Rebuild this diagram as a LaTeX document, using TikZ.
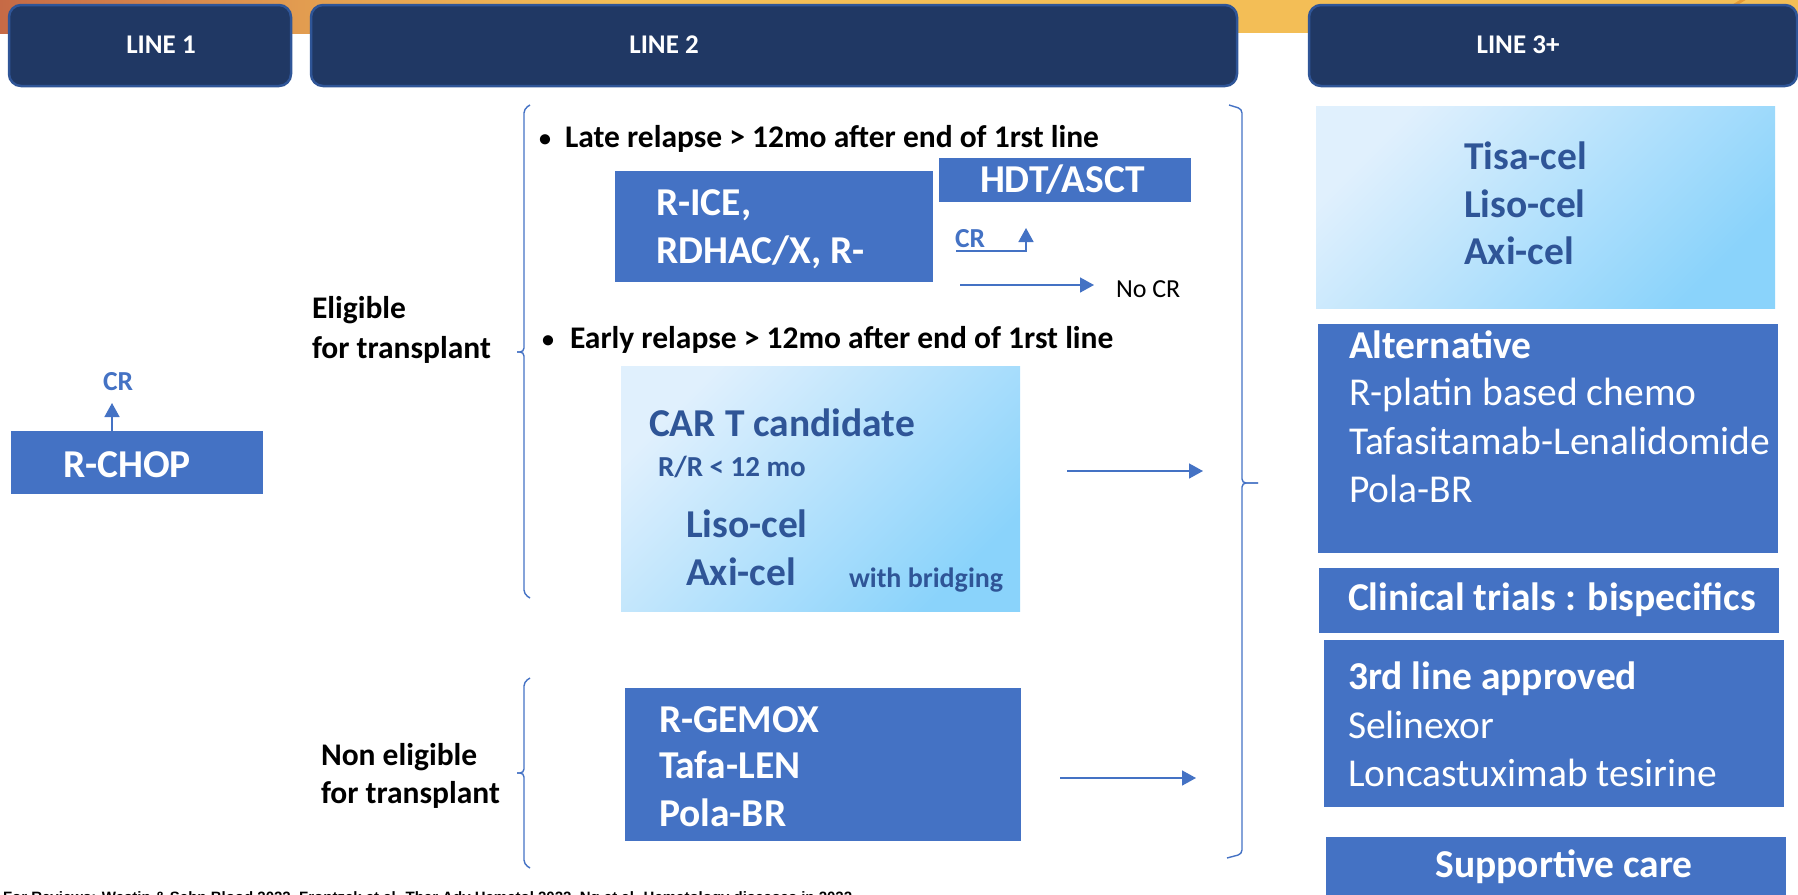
\documentclass[tikz,border=0pt]{standalone}
\usepackage{fontspec}
\setmainfont{Carlito}
\newfontfamily\citefont{Liberation Sans}
\usetikzlibrary{arrows.meta}

\definecolor{boxblue}{HTML}{4472C4}
\definecolor{navy}{HTML}{203864}
\definecolor{navyrim}{HTML}{2F5597}
\definecolor{deepblue}{HTML}{2F5597}
\definecolor{skylight}{HTML}{E0F0FD}
\definecolor{skydark}{HTML}{8AD3FB}
\definecolor{bandL}{HTML}{C66A46}
\definecolor{bandM}{HTML}{E29C50}
\definecolor{bandR}{HTML}{F3BE56}
\definecolor{bandDeep}{HTML}{E49A35}

\begin{document}
\begin{tikzpicture}[x=1pt, y=-1pt,
  every node/.style={inner sep=0pt, outer sep=0pt},
  header/.style={fill=navy, draw=navyrim, line width=2.5pt, rounded corners=12pt, anchor=north west},
  solid box/.style={fill=boxblue, anchor=north west},
  sky box/.style={top color=skylight, bottom color=skydark, shading angle=45, anchor=north west},
  hdrtext/.style={text=white, font=\fontsize{27}{30}\selectfont\bfseries},
  bigw/.style={text=white, anchor=base west, font=\fontsize{39.5}{47}\selectfont\bfseries},
  bigwr/.style={text=white, anchor=base west, font=\fontsize{39.5}{47}\selectfont},
  bigd/.style={text=deepblue, anchor=base west, font=\fontsize{39.5}{47}\selectfont\bfseries},
  smalld/.style={text=deepblue, anchor=base west, font=\fontsize{#1}{#1}\selectfont\bfseries},
  label/.style={text=black, anchor=base west, font=\fontsize{31.5}{38}\selectfont\bfseries},
  crlabel/.style={text=boxblue, anchor=base west, font=\fontsize{27.5}{30}\selectfont\bfseries},
  link/.style={draw=boxblue, line width=1.6pt, -{Triangle[width=15pt,length=14pt]}},
  bracket/.style={draw=boxblue, line width=1.4pt, rounded corners=4pt}
]
\newcommand{\smallbullet}{\raisebox{1pt}{\fontsize{24}{24}\selectfont •}}
\useasboundingbox (0,0) rectangle (1798,894);

% warm band behind the column headers
\shade[left color=bandL, right color=bandM] (0,0) rectangle (300,33);
\shade[left color=bandM, right color=bandR] (300,0) rectangle (620,33);
\fill[bandR] (620,0) rectangle (1798,33);
\draw[bandDeep, line width=3pt] (1733,6) -- (1746,-2);

% column headers
\node[header, minimum width=282pt, minimum height=81pt] (h1box) at (9,5) {};
\node[header, minimum width=926pt, minimum height=81pt] (h2box) at (311,5) {};
\node[header, minimum width=488pt, minimum height=81pt] (h3box) at (1309,5) {};
\node[hdrtext] (h1) at (161,45) {LINE 1};
\node[hdrtext] (h2) at (664,45) {LINE 2};
\node[hdrtext] (h3) at (1518,45) {LINE 3+};

% ---- line 1 ----
\node[solid box, minimum width=252pt, minimum height=63pt] (rchop) at (11,431) {};
\node[bigw] (rchopt) at (63,477) {R-CHOP};
\node[crlabel] (cr1) at (103,390) {CR};
\coordinate (cr1tip) at (112,403);
\draw[link] (rchop.north -| cr1tip) -- (cr1tip);

% ---- line 2, eligible for transplant ----
\node[label] (elig1) at (312,318) {Eligible};
\node[label] (elig2) at (312,358) {for transplant};
\draw[bracket] (530,105) -- (524,109) -- (524,352) -- (517,352);
\draw[bracket] (517,352) -- (524,352) -- (524,594) -- (530,598);

\node[label] (late) at (539,147) {\makebox[26pt][l]{\smallbullet}Late relapse > 12mo after end of 1rst line};
\node[solid box, minimum width=318pt, minimum height=111pt] (rice) at (615,171) {};
\node[bigw] (rice1) at (656,215) {R-ICE,};
\node[bigw] (rice2) at (656,263) {RDHAC/X, R-};
\node[solid box, minimum width=252pt, minimum height=44pt] (hdt) at (939,158) {};
\node[bigw] (hdtt) at (980,192) {HDT/ASCT};
\node[crlabel] (cr2) at (955,247) {CR};
\coordinate (cr2start) at (956,251);
\coordinate (cr2tip) at (1026,228);
\draw[link] (cr2start) -| (cr2tip);
\node[text=black, anchor=base west, font=\fontsize{26}{30}\selectfont] (nocr) at (1116,297) {No CR};
\coordinate (nocrfrom) at (960,285);
\draw[link, shorten >=22pt] (nocrfrom) -- (nocrfrom -| nocr.west);

\node[label] (early) at (542,348) {\makebox[28pt][l]{\smallbullet}Early relapse > 12mo after end of 1rst line};
\node[sky box, minimum width=399pt, minimum height=245pt] (cart) at (621,366) {};
\node[bigd] (cart1) at (649,436) {CAR T candidate};
\node[smalld=29] (cart2) at (658,476) {R/R < 12 mo};
\node[bigd] (cart3) at (686,537) {Liso-cel};
\node[bigd] (cart4) at (686,585) {Axi-cel};
\node[smalld=28] (cart5) at (849,587) {with bridging};
\coordinate (cartout) at (1067,471);
\coordinate (cartin) at (1203,471);
\draw[link] (cartout) -- (cartin);

% ---- line 2, not eligible for transplant ----
\node[label] (nonel1) at (321,765) {Non eligible};
\node[label] (nonel2) at (321,803) {for transplant};
\draw[bracket] (530,678) -- (524,682) -- (524,773) -- (517,773);
\draw[bracket] (517,773) -- (524,773) -- (524,864) -- (530,868);

\node[solid box, minimum width=396pt, minimum height=153pt] (gemox) at (625,688) {};
\node[bigw] (gemox1) at (659,732) {R-GEMOX};
\node[bigw] (gemox2) at (659,778) {Tafa-LEN};
\node[bigw] (gemox3) at (659,826) {Pola-BR};
\coordinate (gemoxout) at (1060,778);
\coordinate (gemoxin) at (1196,778);
\draw[link] (gemoxout) -- (gemoxin);

% brace gathering both branches towards line 3+
\draw[bracket] (1229,105) -- (1242,109) -- (1242,483) -- (1258,483);
\draw[bracket] (1258,483) -- (1242,483) -- (1242,854) -- (1227,858);

% ---- line 3+ ----
\node[sky box, minimum width=459pt, minimum height=202pt] (tisa) at (1316,106) {};
\node[bigd] (tisa1) at (1464,169) {Tisa-cel};
\node[bigd] (tisa2) at (1464,217) {Liso-cel};
\node[bigd] (tisa3) at (1464,264) {Axi-cel};

\node[solid box, minimum width=460pt, minimum height=229pt] (alt) at (1318,324) {};
\node[bigw] (alt1) at (1349,358) {Alternative};
\node[bigwr] (alt2) at (1349,405) {R-platin based chemo};
\node[bigwr] (alt3) at (1349,454) {Tafasitamab-Lenalidomide};
\node[bigwr] (alt4) at (1349,502) {Pola-BR};

\node[solid box, minimum width=460pt, minimum height=65pt] (trials) at (1319,568) {};
\node[bigw] (trials1) at (1348,610) {Clinical trials : bispecifics};

\node[solid box, minimum width=460pt, minimum height=167pt] (third) at (1324,640) {};
\node[bigw] (third1) at (1348,689) {3rd line approved};
\node[bigwr] (third2) at (1348,738) {Selinexor};
\node[bigwr] (third3) at (1348,786) {Loncastuximab tesirine};

\node[solid box, minimum width=460pt, minimum height=70pt] (support) at (1326,837) {};
\node[bigw, anchor=base] (support1) at (1564,877) {Supportive care};

% references along the lower edge
\node[anchor=base west, text=black, font=\citefont\fontsize{15}{18}\selectfont\bfseries] (refs) at (3,902)
  {For Reviews: Westin \& Sehn Blood 2022, Frontzek et al. Ther Adv Hematol 2022, Ng et al. Hematology diseases in 2022};
\end{tikzpicture}
\end{document}
